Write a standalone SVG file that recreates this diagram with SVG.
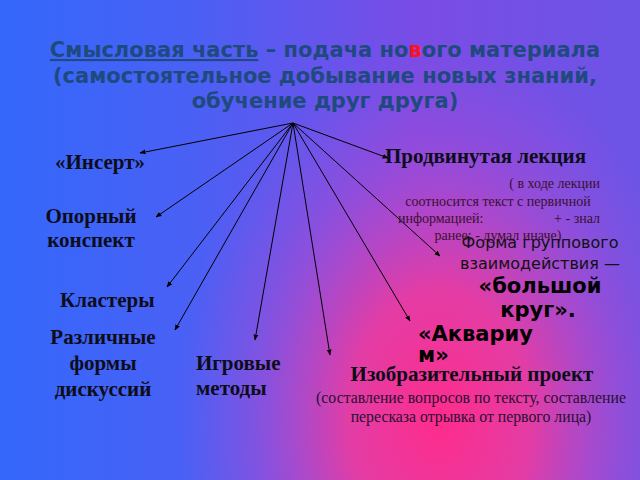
<svg xmlns="http://www.w3.org/2000/svg" width="640" height="480" viewBox="0 0 640 480">
<defs>
<linearGradient id="bg" x1="0" y1="0" x2="1" y2="0">
<stop offset="0" stop-color="#3468fb"/>
<stop offset="0.3" stop-color="#4a60f5"/>
<stop offset="0.65" stop-color="#7a4ce6"/>
<stop offset="1" stop-color="#6c54e6"/>
</linearGradient>
<radialGradient id="glow" gradientUnits="userSpaceOnUse" cx="440" cy="420" r="250" gradientTransform="translate(440,420) scale(1.05,1.5) translate(-440,-420)">
<stop offset="0" stop-color="#ff2c8c" stop-opacity="1"/>
<stop offset="0.35" stop-color="#f23a9c" stop-opacity="0.88"/>
<stop offset="0.7" stop-color="#c048c8" stop-opacity="0.4"/>
<stop offset="1" stop-color="#a050d8" stop-opacity="0"/>
</radialGradient>
<marker id="ah" viewBox="0 0 10 10" refX="9" refY="5" markerWidth="6" markerHeight="6" orient="auto" markerUnits="userSpaceOnUse">
<path d="M0,1 L10,5 L0,9 z" fill="#000"/>
</marker>
<style>
.title{font-family:"DejaVu Sans",sans-serif;font-weight:bold;font-size:21px;fill:#1e4a7e;text-anchor:middle}
.lab{font-family:"Liberation Serif",serif;font-weight:bold;font-size:21px;fill:#0d0d1a}
.small{font-family:"Liberation Serif",serif;font-size:14px;fill:#3a1030}
.desc{font-family:"Liberation Serif",serif;font-size:15.8px;fill:#2a0f33}
.sans{font-family:"DejaVu Sans",sans-serif;font-size:16px;fill:#111}
.sansb{font-family:"DejaVu Sans",sans-serif;font-weight:bold;font-size:21px;fill:#000}
.conn line{stroke:#000;stroke-width:1;marker-end:url(#ah)}
</style>
</defs>
<rect width="640" height="480" fill="url(#bg)"/>
<rect width="640" height="480" fill="url(#glow)"/>

<g id="title">
<text class="title" x="325" y="57"><tspan text-decoration="underline">Смысловая часть</tspan> – подача но<tspan fill="#ff1020">в</tspan>ого материала</text>
<text class="title" x="325" y="83">(самостоятельное добывание новых знаний,</text>
<text class="title" x="325" y="108">обучение друг друга)</text>
</g>

<g id="connectors" class="conn">
<line x1="293" y1="123" x2="140" y2="153"/>
<line x1="293" y1="123" x2="156" y2="217"/>
<line x1="293" y1="123" x2="167" y2="287"/>
<line x1="293" y1="123" x2="175" y2="330"/>
<line x1="293" y1="123" x2="255" y2="340"/>
<line x1="293" y1="123" x2="330" y2="355"/>
<line x1="293" y1="123" x2="410" y2="321"/>
<line x1="293" y1="123" x2="440" y2="256"/>
<line x1="293" y1="123" x2="388" y2="158"/>
</g>

<g id="insert"><text class="lab" x="55" y="169">«Инсерт»</text></g>
<g id="opornyi">
<text class="lab" x="91" y="223" text-anchor="middle">Опорный</text>
<text class="lab" x="91" y="247" text-anchor="middle">конспект</text>
</g>
<g id="klastery"><text class="lab" x="60" y="307">Кластеры</text></g>
<g id="diskussii">
<text class="lab" x="103" y="344" text-anchor="middle">Различные</text>
<text class="lab" x="103" y="370" text-anchor="middle">формы</text>
<text class="lab" x="103" y="396" text-anchor="middle">дискуссий</text>
</g>
<g id="igrovye">
<text class="lab" x="196" y="370">Игровые</text>
<text class="lab" x="196" y="395">методы</text>
</g>
<g id="lekciya">
<text class="lab" x="385" y="163">Продвинутая лекция</text>
<text class="small" x="600" y="188" text-anchor="end">( в ходе лекции</text>
<text class="small" x="498" y="206" text-anchor="middle">соотносится текст с первичной</text>
<text class="small" x="398" y="223">информацией:</text>
<text class="small" x="600" y="223" text-anchor="end">+  - знал</text>
<text class="small" x="498" y="240" text-anchor="middle">ранее; - думал иначе)</text>
</g>
<g id="krug">
<text class="sans" x="540" y="248" text-anchor="middle">Форма группового</text>
<text class="sans" x="540" y="269" text-anchor="middle">взаимодействия —</text>
<text class="sansb" x="540" y="293" text-anchor="middle">«большой</text>
<text class="sansb" x="538" y="317" text-anchor="middle">круг».</text>
</g>
<g id="akvarium">
<text class="sansb" x="418" y="341">«Аквариу</text>
<text class="sansb" x="418" y="362">м»</text>
</g>
<g id="proekt">
<text class="lab" x="472" y="381" text-anchor="middle">Изобразительный проект</text>
<text class="desc" x="471" y="403" text-anchor="middle">(составление вопросов по тексту, составление</text>
<text class="desc" x="471" y="422" text-anchor="middle">пересказа отрывка от первого лица)</text>
</g>
</svg>
